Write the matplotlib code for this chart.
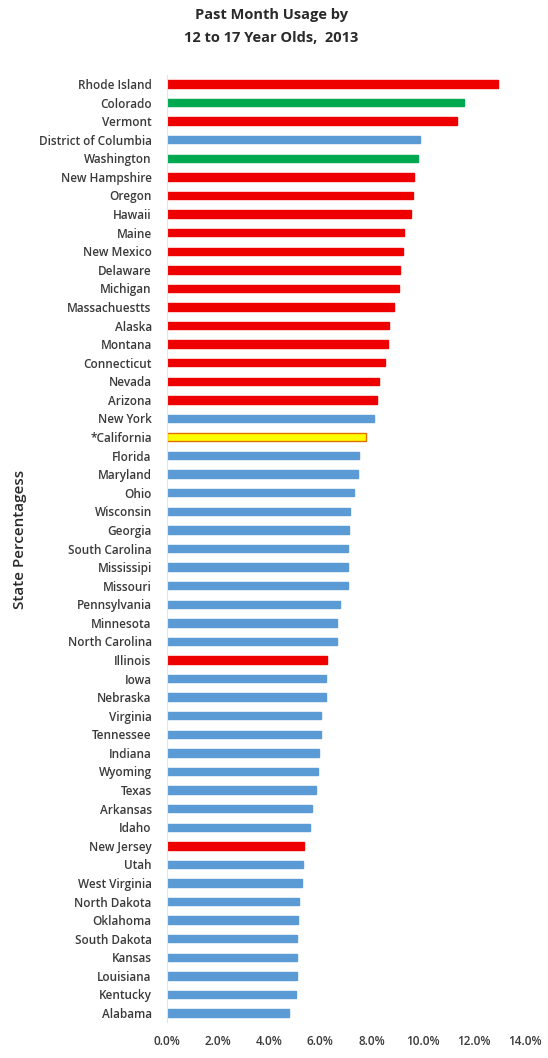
import numpy as np
import matplotlib
matplotlib.use("Agg")
from matplotlib import pyplot as plt
from matplotlib.ticker import PercentFormatter

# state rates, listed from the top bar down
states = ["Rhode Island", "Colorado", "Vermont", "District of Columbia", "Washington",
          "New Hampshire", "Oregon", "Hawaii", "Maine", "New Mexico", "Delaware",
          "Michigan", "Massachuestts", "Alaska", "Montana", "Connecticut", "Nevada",
          "Arizona", "New York", "*California", "Florida", "Maryland", "Ohio",
          "Wisconsin", "Georgia", "South Carolina", "Mississipi", "Missouri",
          "Pennsylvania", "Minnesota", "North Carolina", "Illinois", "Iowa",
          "Nebraska", "Virginia", "Tennessee", "Indiana", "Wyoming", "Texas",
          "Arkansas", "Idaho", "New Jersey", "Utah", "West Virginia", "North Dakota",
          "Oklahoma", "South Dakota", "Kansas", "Louisiana", "Kentucky", "Alabama"]
rates = [12.95, 11.6, 11.36, 9.9, 9.83,
         9.65, 9.62, 9.55, 9.28, 9.22, 9.11,
         9.08, 8.87, 8.68, 8.64, 8.54, 8.29,
         8.22, 8.09, 7.77, 7.49, 7.46, 7.33,
         7.15, 7.11, 7.08, 7.07, 7.07,
         6.77, 6.65, 6.64, 6.24, 6.22,
         6.21, 6.02, 6.02, 5.95, 5.92, 5.81,
         5.66, 5.59, 5.36, 5.33, 5.27, 5.18,
         5.14, 5.10, 5.08, 5.08, 5.04, 4.79]
# legal status group for each bar
groups = ["med", "rec", "med", "none", "rec",
          "med", "med", "med", "med", "med", "med",
          "med", "med", "med", "med", "med", "med",
          "med", "none", "ca", "none", "none", "none",
          "none", "none", "none", "none", "none",
          "none", "none", "none", "med", "none",
          "none", "none", "none", "none", "none", "none",
          "none", "none", "med", "none", "none", "none",
          "none", "none", "none", "none", "none", "none"]

fill = {"med": "#ee0000", "rec": "#00a850", "none": "#5b9bd5", "ca": "#ffff00"}
edge = {"med": "#ee0000", "rec": "#00a850", "none": "#5b9bd5", "ca": "#e07000"}

plt.rcParams["font.family"] = ["Open Sans", "DejaVu Sans"]

fig = plt.figure(figsize=(5.48, 10.58), dpi=100)
ax = fig.add_axes([0.3047, 0.0337, 0.6533, 0.8957])

y = np.arange(len(states))
ax.barh(y, rates, height=0.4,
        color=[fill[g] for g in groups],
        edgecolor=[edge[g] for g in groups], linewidth=1.0)

ax.set_ylim(len(states) - 0.5, -0.5)
ax.set_xlim(0, 14)
ax.set_xticks(np.arange(0, 15, 2))
ax.xaxis.set_major_formatter(PercentFormatter(decimals=1))
ax.set_yticks(y)
ax.set_yticklabels(states)

for s in ["top", "right", "bottom"]:
    ax.spines[s].set_visible(False)
ax.spines["left"].set_color("#dde6f0")
ax.tick_params(axis="both", length=0, colors="#3a3a3a")
ax.tick_params(axis="y", pad=11, labelsize=8.5)
ax.tick_params(axis="x", pad=9, labelsize=8.5)
for lab in ax.get_yticklabels() + ax.get_xticklabels():
    lab.set_fontweight("semibold")

ax.set_ylabel("State Percentagess", fontsize=11, fontweight="semibold", color="#2a2a2a")
ax.yaxis.set_label_coords(-0.39, 0.51)

fig.text(0.495, 0.986, "Past Month Usage by", ha="center", va="center",
         fontsize=10.5, fontweight="bold", color="#2a2a2a")
fig.text(0.495, 0.964, "12 to 17 Year Olds,  2013", ha="center", va="center",
         fontsize=10.5, fontweight="bold", color="#2a2a2a")

plt.savefig("out.png", dpi=100)
